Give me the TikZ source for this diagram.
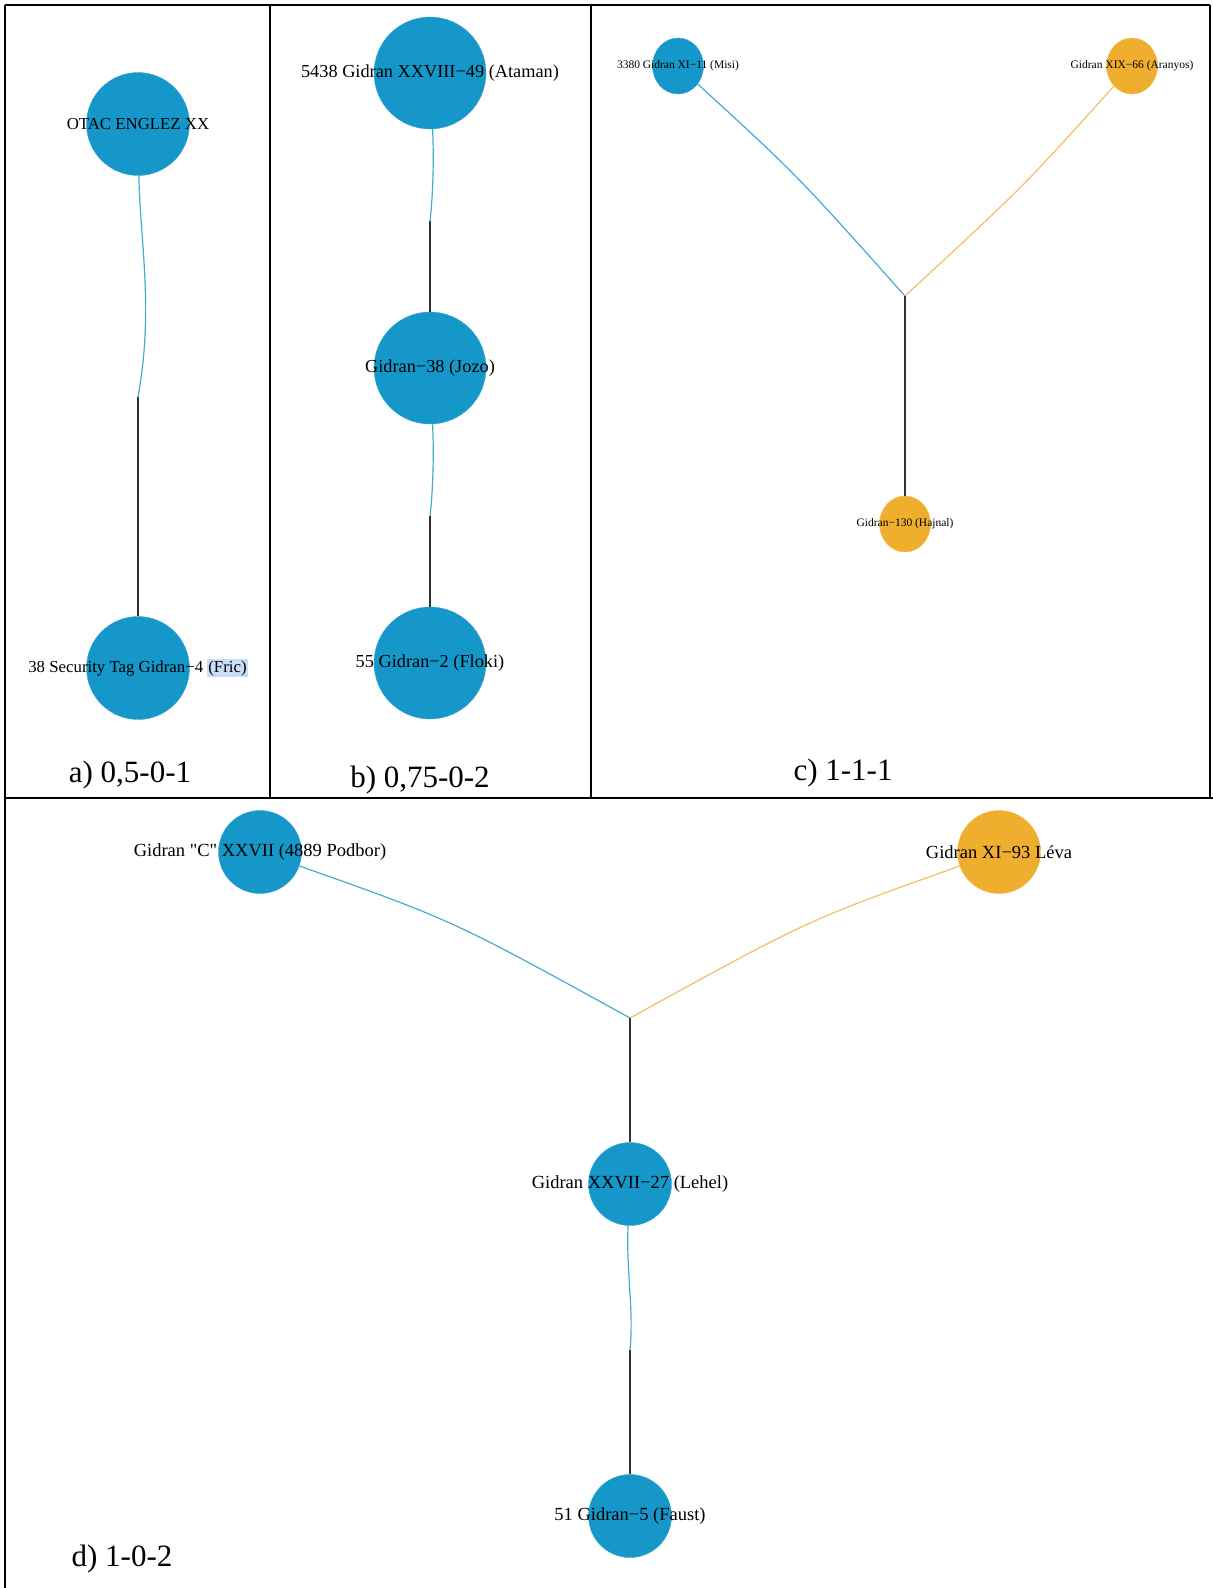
\documentclass[tikz,border=0pt]{standalone}
\usepackage{fontspec}
\setmainfont{Liberation Serif}
\newfontfamily\plainserif{Liberation Serif}
\usepackage{tikz}
\usetikzlibrary{shapes}
\definecolor{horseblue}{HTML}{1697C9}
\definecolor{horsegold}{HTML}{F0AE2E}
\definecolor{linkblue}{HTML}{45AAD0}
\definecolor{linkgold}{HTML}{F2BF62}
\definecolor{linkdark}{HTML}{333333}
\definecolor{hilite}{HTML}{CADDF7}
\tikzset{%
  stallion/.style = {circle, fill=horseblue, draw=horseblue!85!white, inner sep=0pt},
  mare/.style     = {circle, fill=horsegold, draw=horsegold!85!white, inner sep=0pt},
  junction/.style = {coordinate}, % link break point
  bluelink/.style = {draw=linkblue, line width=1.2pt},
  goldlink/.style = {draw=linkgold, line width=1.2pt},
  darklink/.style = {draw=linkdark, line width=1.4pt},
  tag/.style      = {inner sep=0pt, text=black},
  caption/.style  = {inner sep=0pt, font=\fontsize{31}{36}\selectfont},
  frame/.style    = {line width=1.6pt}
}

\begin{document}
\begin{tikzpicture}[x=1pt, y=-1pt]
\useasboundingbox (0,0) rectangle (1213,1588);

% table frame
\draw[frame] (5,5) -- (1210,5);
\draw[frame] (5,5) -- (5,1588);
\draw[frame] (1210,5) -- (1210,798);
\draw[frame] (270,5) -- (270,798);
\draw[frame] (591,5) -- (591,798);
\draw[frame] (5,798) -- (1213,798);

% a)
\draw
    node at(138,124)[stallion,minimum size=103pt,name=otac]{}
    node at(138,668)[stallion,minimum size=103pt,name=fric]{}
    node at(138,397)[junction,name=aMid]{}
;
\draw[bluelink](otac) .. controls (140,240) and (154,310) .. (aMid);
\draw[darklink](aMid) -- (fric);

% b)
\draw
    node at(430,73)[stallion,minimum size=112pt,name=ataman]{}
    node at(430,368)[stallion,minimum size=112pt,name=jozo]{}
    node at(430,663)[stallion,minimum size=112pt,name=floki]{}
    node at(430,221)[junction,name=bMidA]{}
    node at(430,516)[junction,name=bMidB]{}
;
\draw[bluelink](ataman) .. controls (434,160) and (433,195) .. (bMidA);
\draw[darklink](bMidA) -- (jozo);
\draw[bluelink](jozo) .. controls (434,455) and (433,490) .. (bMidB);
\draw[darklink](bMidB) -- (floki);

% c)
\draw
    node at(678,66)[stallion,ellipse,minimum width=51pt,minimum height=56pt,name=misi]{}
    node at(1132,66)[mare,ellipse,minimum width=51pt,minimum height=56pt,name=aranyos]{}
    node at(905,524)[mare,ellipse,minimum width=51pt,minimum height=56pt,name=hajnal]{}
    node at(905,296)[junction,name=cJun]{}
;
\draw[bluelink](misi) .. controls (797,175) .. (cJun);
\draw[goldlink](aranyos) .. controls (1024,186) .. (cJun);
\draw[darklink](cJun) -- (hajnal);

% d)
\draw
    node at(260,852)[stallion,minimum size=83pt,name=podbor]{}
    node at(999,852)[mare,minimum size=83pt,name=leva]{}
    node at(630,1184)[stallion,minimum size=83pt,name=lehel]{}
    node at(630,1516)[stallion,minimum size=83pt,name=faust]{}
    node at(630,1018)[junction,name=dJun]{}
    node at(630,1350)[junction,name=dMid]{}
;
\draw[bluelink](podbor) .. controls (452,920) .. (dJun);
\draw[goldlink](leva) .. controls (808,920) .. (dJun);
\draw[darklink](dJun) -- (lehel);
\draw[bluelink](lehel) .. controls (626,1270) and (634,1310) .. (dMid);
\draw[darklink](dMid) -- (faust);

% names
\draw
    node at(138,124)[tag,font=\fontsize{16.8}{20}\selectfont,name=otacT]{OTAC ENGLEZ XX}
    node at(138,668)[tag,font=\fontsize{16.8}{20}\selectfont,name=fricT]{38 Security Tag Gidran−4 {\setlength{\fboxsep}{1pt}\colorbox{hilite}{(Fric)}}}
    node at(430,73)[tag,font=\fontsize{18.3}{22}\selectfont,name=atamanT]{5438 Gidran XXVIII−49 (Ataman)}
    node at(430,368)[tag,font=\fontsize{18.3}{22}\selectfont,name=jozoT]{Gidran−38 (Jozo)}
    node at(430,663)[tag,font=\fontsize{18.3}{22}\selectfont,name=flokiT]{55 Gidran−2 (Floki)}
    node at(678,66)[tag,font=\fontsize{11.5}{14}\selectfont,name=misiT]{3380 Gidran XI−11 (Misi)}
    node at(1132,66)[tag,font=\fontsize{11.5}{14}\selectfont,name=aranyosT]{Gidran XIX−66 (Aranyos)}
    node at(905,524)[tag,font=\fontsize{11.5}{14}\selectfont,name=hajnalT]{Gidran−130 (Hajnal)}
    node at(260,852)[tag,font=\plainserif\fontsize{18.5}{22}\selectfont,name=podborT]{Gidran "C" XXVII (4889 Podbor)}
    node at(999,852)[tag,font=\fontsize{18.5}{22}\selectfont,name=levaT]{Gidran XI−93 Léva}
    node at(630,1184)[tag,font=\fontsize{18.5}{22}\selectfont,name=lehelT]{Gidran XXVII−27 (Lehel)}
    node at(630,1516)[tag,font=\fontsize{18.5}{22}\selectfont,name=faustT]{51 Gidran−5 (Faust)}
;

% captions
\draw
    node at(130,775)[caption,name=capA]{a) 0,5-0-1}
    node at(420,780)[caption,name=capB]{b) 0,75-0-2}
    node at(843,773)[caption,name=capC]{c) 1-1-1}
    node at(122,1559)[caption,name=capD]{d) 1-0-2}
;
\end{tikzpicture}
\end{document}
